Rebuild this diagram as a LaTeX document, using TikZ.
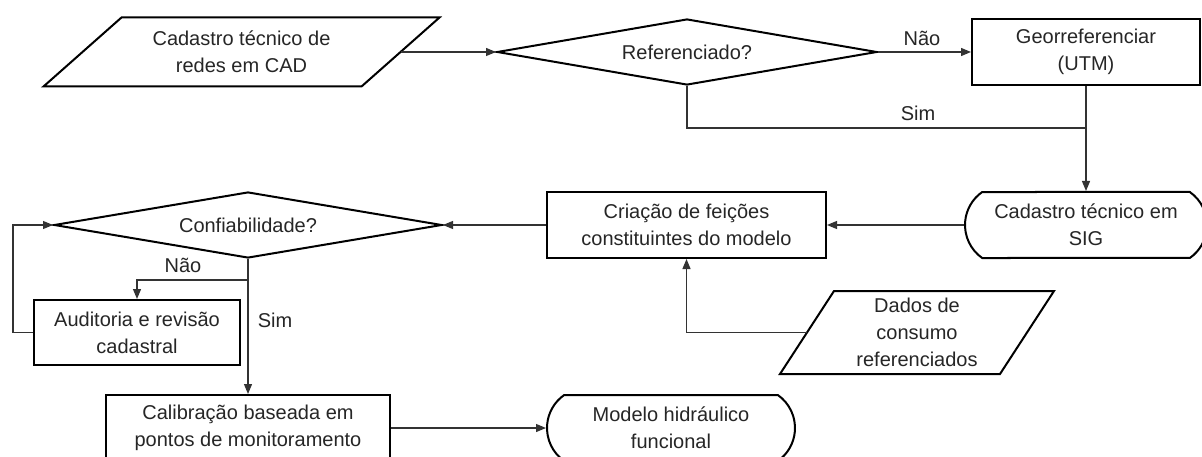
\documentclass[tikz,border=0pt]{standalone}
\usepackage{fontspec}
\setmainfont{Liberation Sans}
\usetikzlibrary{shapes.geometric,shapes.misc,arrows.meta,calc}
\definecolor{txt}{HTML}{262626}
\definecolor{lin}{HTML}{333333}
\tikzset{
  base/.style={font=\fontsize{20}{27}\selectfont, text=txt, align=center, inner sep=0pt, line width=2pt},
  proc/.style={base, draw=black, rectangle, minimum height=66pt},
  dec/.style={base, draw=black, diamond, aspect=5.8, minimum height=66pt},
  term/.style={base, draw=black, rounded rectangle, rounded rectangle arc length=110, minimum height=66pt},
  io/.style={base, rectangle},
  border/.style={line width=2pt, draw=black},
  conn/.style={line width=1.2pt, draw=lin},
  arr/.style={conn, -{Triangle[length=10pt,width=8pt]}},
  lbl/.style={font=\fontsize{20}{27}\selectfont, text=txt, inner sep=0pt}
}
\begin{document}
\begin{tikzpicture}[x=1pt,y=-1pt]
\fill[white] (0,0) rectangle (1202,457);
\useasboundingbox (0,0) rectangle (1202,457);

% nodes
\node[io, minimum width=316pt, minimum height=67pt] (cad) at (241.5,52) {Cadastro técnico de\\redes em CAD};
\draw[border] ($(cad.south west)+(-39,0)$) -- ($(cad.north west)+(39,0)$) -- ($(cad.north east)+(39,0)$) -- ($(cad.south east)+(-39,0)$) -- cycle;

\node[dec, minimum width=380pt] (ref) at (687,52) {Referenciado?};
\node[proc, minimum width=228pt] (geo) at (1086,52) {Georreferenciar\\(UTM)};
\node[term, minimum width=242pt] (sig) at (1086,225) {Cadastro técnico em\\SIG};
\node[proc, minimum width=279pt] (cri) at (686.5,225) {Criação de feições\\constituintes do modelo};
\node[dec, minimum width=388pt] (conf) at (248,225) {Confiabilidade?};
\node[proc, minimum width=206pt, minimum height=65pt] (aud) at (137,332.5) {Auditoria e revisão\\cadastral};
\node[proc, minimum width=284pt] (cal) at (248,428) {Calibração baseada em\\pontos de monitoramento};
\node[term, minimum width=248pt] (mod) at (671,428) {Modelo hidráulico\\funcional};

\node[io, minimum width=218pt, minimum height=81pt] (dados) at (917,332.5) {Dados de\\consumo\\referenciados};
\draw[border] ($(dados.south west)+(-27,0)$) -- ($(dados.north west)+(27,0)$) -- ($(dados.north east)+(27,0)$) -- ($(dados.south east)+(-27,0)$) -- cycle;

% labels
\node[lbl] (l1) at (922,38) {Não};
\node[lbl] (l2) at (918,113) {Sim};
\node[lbl] (l3) at (183,265) {Não};
\node[lbl] (l4) at (275,320) {Sim};

% connectors
\coordinate (j) at (1086,128);
\coordinate (k) at (248,280);
\coordinate (m) at (13,333);

\draw[arr] (cad.east) -- (ref.west);
\draw[arr] (ref.east) -- (geo.west);
\draw[conn] (ref.south) |- (j);
\draw[arr] (geo.south) -- (sig.north);
\draw[arr] (sig.west) -- (cri.east);
\draw[arr] (cri.west) -- (conf.east);
\draw[arr] (dados.west) -| (cri.south);
\draw[arr] (conf.south) -- (k) -| (aud.north);
\draw[arr] (k) -- (cal.north);
\draw[arr] (aud.west) -- (aud.west -| m) |- (conf.west);
\draw[arr] (cal.east) -- (mod.west);
\end{tikzpicture}
\end{document}
